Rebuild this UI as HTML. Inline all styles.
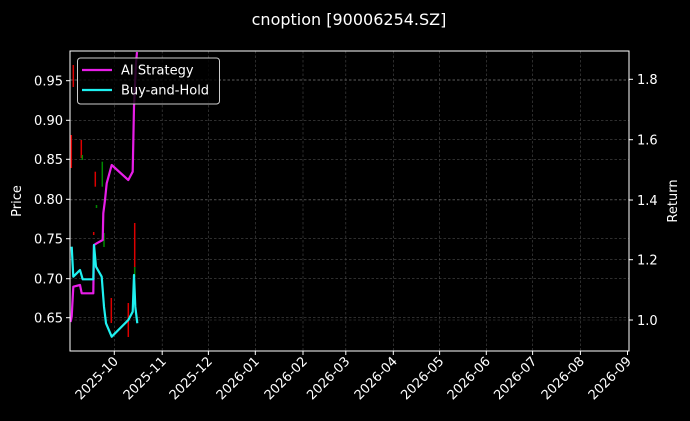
<!DOCTYPE html>
<html><head><meta charset="utf-8"><style>
html,body{margin:0;padding:0;background:#000;}
svg{display:block;font-family:"DejaVu Sans","Liberation Sans",sans-serif;}
</style></head><body>
<svg width="690" height="421" viewBox="0 0 690 421" xmlns="http://www.w3.org/2000/svg">
<rect width="690" height="421" fill="#000"/>
<text x="349" y="25" fill="#fff" font-size="16" text-anchor="middle">cnoption [90006254.SZ]</text>
<g stroke="#4a4a4a" stroke-width="0.6" stroke-dasharray="2.5,2" fill="none">
<line x1="114.3" y1="51" x2="114.3" y2="351"/><line x1="162.2" y1="51" x2="162.2" y2="351"/>
<line x1="208.4" y1="51" x2="208.4" y2="351"/><line x1="255.3" y1="51" x2="255.3" y2="351"/>
<line x1="303" y1="51" x2="303" y2="351"/><line x1="345.8" y1="51" x2="345.8" y2="351"/>
<line x1="393.3" y1="51" x2="393.3" y2="351"/><line x1="439.6" y1="51" x2="439.6" y2="351"/>
<line x1="486.3" y1="51" x2="486.3" y2="351"/><line x1="532.6" y1="51" x2="532.6" y2="351"/>
<line x1="580.4" y1="51" x2="580.4" y2="351"/>
<line x1="70" y1="80.7" x2="629" y2="80.7"/><line x1="70" y1="120.3" x2="629" y2="120.3"/>
<line x1="70" y1="159.3" x2="629" y2="159.3"/><line x1="70" y1="199.3" x2="629" y2="199.3"/>
<line x1="70" y1="238.7" x2="629" y2="238.7"/><line x1="70" y1="278.7" x2="629" y2="278.7"/>
<line x1="70" y1="317.7" x2="629" y2="317.7"/>
<line x1="70" y1="79.3" x2="629" y2="79.3"/><line x1="70" y1="139.7" x2="629" y2="139.7"/>
<line x1="70" y1="200" x2="629" y2="200"/><line x1="70" y1="259.7" x2="629" y2="259.7"/>
<line x1="70" y1="320" x2="629" y2="320"/>
</g>
<g stroke-width="1.5">
<line x1="73.3" y1="65" x2="73.3" y2="87" stroke="#d00"/>
<line x1="71.3" y1="135" x2="71.3" y2="168" stroke="#d00"/>
<line x1="81.3" y1="140" x2="81.3" y2="158" stroke="#d00"/>
<line x1="82.3" y1="155" x2="82.3" y2="160" stroke="#080"/>
<line x1="95.3" y1="171.7" x2="95.3" y2="186.7" stroke="#d00"/>
<line x1="102.3" y1="161.7" x2="102.3" y2="186.7" stroke="#080"/>
<line x1="93.7" y1="232" x2="93.7" y2="235" stroke="#d00"/>
<line x1="96.5" y1="205" x2="96.5" y2="208" stroke="#080"/>
<line x1="104" y1="233" x2="104" y2="247" stroke="#080"/>
<line x1="111.3" y1="298" x2="111.3" y2="323" stroke="#d00"/>
<line x1="128.3" y1="303" x2="128.3" y2="337" stroke="#d00"/>
<line x1="134.7" y1="223" x2="134.7" y2="267" stroke="#d00"/>
<line x1="134.7" y1="267" x2="134.7" y2="277" stroke="#080"/>
</g>
<polyline fill="none" stroke="#e81ee8" stroke-width="2.2" stroke-linejoin="round" points="70.5,322 71.7,316.7 73.3,286.7 80,285 81.7,293.3 93.3,293.3 94,245 96.7,243.3 102.7,240 103.3,213.3 105,200 106.7,183.3 111.7,165 128.3,180 132.7,171.7 134,106.7 136,63.3 137,52"/>
<polyline fill="none" stroke="#1ef0f0" stroke-width="2.2" stroke-linejoin="round" points="71.7,246.7 73.3,276.7 76.7,273.3 80,270 82.7,279.3 93.3,279.3 94,245 96,266.7 101.7,276.7 104,306.7 106,323.3 111.7,336.7 128.3,320 132.7,311.7 134,275 135.3,306.7 137.3,323.3"/>
<rect x="70" y="51" width="559" height="300" fill="none" stroke="#fff" stroke-width="1"/>
<g stroke="#fff" stroke-width="1">
<line x1="66" y1="80.7" x2="70" y2="80.7"/><line x1="66" y1="120.3" x2="70" y2="120.3"/>
<line x1="66" y1="159.3" x2="70" y2="159.3"/><line x1="66" y1="199.3" x2="70" y2="199.3"/>
<line x1="66" y1="238.7" x2="70" y2="238.7"/><line x1="66" y1="278.7" x2="70" y2="278.7"/>
<line x1="66" y1="317.7" x2="70" y2="317.7"/>
<line x1="629" y1="79.3" x2="633" y2="79.3"/><line x1="629" y1="139.7" x2="633" y2="139.7"/>
<line x1="629" y1="200" x2="633" y2="200"/><line x1="629" y1="259.7" x2="633" y2="259.7"/>
<line x1="629" y1="320" x2="633" y2="320"/>
<line x1="114.3" y1="351" x2="114.3" y2="355"/><line x1="162.2" y1="351" x2="162.2" y2="355"/>
<line x1="208.4" y1="351" x2="208.4" y2="355"/><line x1="255.3" y1="351" x2="255.3" y2="355"/>
<line x1="303" y1="351" x2="303" y2="355"/><line x1="345.8" y1="351" x2="345.8" y2="355"/>
<line x1="393.3" y1="351" x2="393.3" y2="355"/><line x1="439.6" y1="351" x2="439.6" y2="355"/>
<line x1="486.3" y1="351" x2="486.3" y2="355"/><line x1="532.6" y1="351" x2="532.6" y2="355"/>
<line x1="580.4" y1="351" x2="580.4" y2="355"/><line x1="627.5" y1="351" x2="627.5" y2="355"/>
</g>
<g fill="#fff" font-size="13" text-anchor="end">
<text x="63" y="85.5">0.95</text><text x="63" y="125">0.90</text><text x="63" y="164">0.85</text>
<text x="63" y="204">0.80</text><text x="63" y="243.5">0.75</text><text x="63" y="283.5">0.70</text>
<text x="63" y="322.5">0.65</text>
</g>
<g fill="#fff" font-size="13">
<text x="637" y="84">1.8</text><text x="637" y="144.5">1.6</text><text x="637" y="205">1.4</text>
<text x="637" y="264.5">1.2</text><text x="637" y="325">1.0</text>
</g>
<text transform="translate(21,201) rotate(-90)" fill="#fff" font-size="13" text-anchor="middle">Price</text>
<text transform="translate(677,201) rotate(-90)" fill="#fff" font-size="13" text-anchor="middle">Return</text>
<g fill="#fff" font-size="13" text-anchor="end">
<text transform="translate(119,362) rotate(-45)">2025-10</text>
<text transform="translate(167,362) rotate(-45)">2025-11</text>
<text transform="translate(213,362) rotate(-45)">2025-12</text>
<text transform="translate(260,362) rotate(-45)">2026-01</text>
<text transform="translate(308,362) rotate(-45)">2026-02</text>
<text transform="translate(350.5,362) rotate(-45)">2026-03</text>
<text transform="translate(398,362) rotate(-45)">2026-04</text>
<text transform="translate(444.5,362) rotate(-45)">2026-05</text>
<text transform="translate(491,362) rotate(-45)">2026-06</text>
<text transform="translate(537.5,362) rotate(-45)">2026-07</text>
<text transform="translate(585,362) rotate(-45)">2026-08</text>
<text transform="translate(632,362) rotate(-45)">2026-09</text>
</g>
<rect x="77.5" y="58" width="142" height="46" rx="3" fill="#000" fill-opacity="0.8" stroke="#ccc" stroke-width="1"/>
<line x1="82" y1="70" x2="112" y2="70" stroke="#e81ee8" stroke-width="2.2"/>
<line x1="82" y1="90" x2="112" y2="90" stroke="#1ef0f0" stroke-width="2.2"/>
<text x="121" y="74.5" fill="#fff" font-size="13">AI Strategy</text>
<text x="121" y="94.5" fill="#fff" font-size="13">Buy-and-Hold</text>
</svg>
</body></html>
